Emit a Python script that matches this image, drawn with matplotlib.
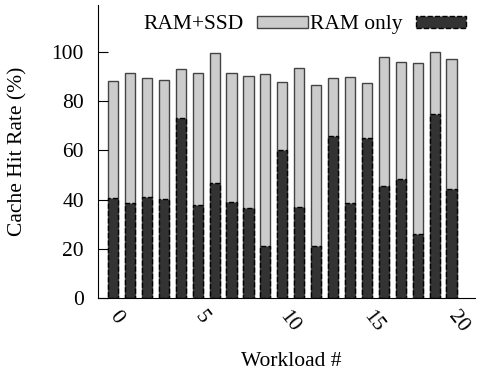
import matplotlib
matplotlib.use("Agg")
import matplotlib.pyplot as plt
import matplotlib.transforms as mtrans
import numpy as np

plt.rcParams['font.family'] = ['Liberation Serif', 'DejaVu Serif']

workloads = np.arange(21)
ram_ssd = [88.2, 91.3, 89.3, 88.6, 93.1, 91.3, 99.5, 91.2, 90.2, 91.1, 87.7,
           93.2, 86.6, 89.3, 89.6, 87.1, 97.7, 95.8, 95.4, 100.0, 96.9]
ram_only = [40.5, 38.6, 41.2, 40.2, 72.9, 37.9, 46.9, 39.2, 36.7, 21.1, 60.2,
            37.1, 21.1, 65.9, 38.5, 64.8, 45.5, 48.5, 26.2, 74.7, 44.3]
xticks = [0, 5, 10, 15, 20]
yticks = [0, 20, 40, 60, 80, 100]

fs = 15.5
fig = plt.figure(figsize=(4.8, 3.75), dpi=100)
ax = fig.add_axes([0.204, 0.205, 0.786, 0.782])

w = 0.6
b1 = ax.bar(workloads, ram_ssd, w, color='#cccccc', edgecolor='#444444', linewidth=1, label='RAM+SSD')
b2 = ax.bar(workloads, ram_only, w, color='#333333', edgecolor='black', linewidth=1,
            linestyle='--', label='RAM only')

ax.set_xlim(-0.9, 21.4)
ax.set_ylim(0, 119)
ax.set_xticks(xticks)
ax.set_xticklabels([str(t) for t in xticks], rotation=-52, ha='left', va='center', fontsize=fs,
                   rotation_mode='anchor')
off = mtrans.ScaledTranslation(3 / 100, 0, fig.dpi_scale_trans)
for lab in ax.get_xticklabels():
    lab.set_transform(lab.get_transform() + off)
ax.set_yticks(yticks)
ax.tick_params(axis='y', direction='in', length=7, labelsize=fs, pad=10)
ax.tick_params(axis='x', direction='in', length=0, pad=11)
for s in ['top', 'right']:
    ax.spines[s].set_visible(False)

ax.set_ylabel('Cache Hit Rate (%)', fontsize=fs)
ax.yaxis.set_label_coords(-0.186, 0.5)
ax.set_xlabel('Workload #', fontsize=fs)
ax.xaxis.set_label_coords(0.512, -0.184)

ax.legend(handles=[b1, b2], ncol=2, markerfirst=False, frameon=False, fontsize=fs,
          loc='center', bbox_to_anchor=(0.635, 0.934), bbox_transform=fig.transFigure,
          borderpad=0, borderaxespad=0, handlelength=2.33, handleheight=0.47,
          columnspacing=0.1, handletextpad=0.65)

fig.savefig('out.png', dpi=100)
